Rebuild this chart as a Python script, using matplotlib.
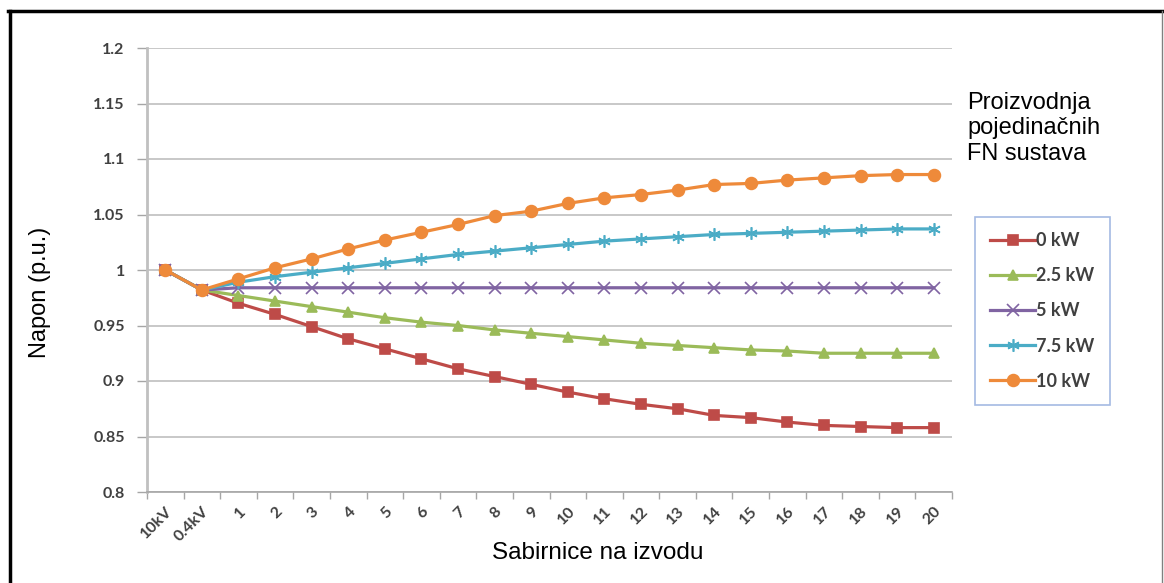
import matplotlib
matplotlib.use('Agg')
import matplotlib.pyplot as plt
from matplotlib.lines import Line2D

# Data
categories = ['10kV', '0.4kV'] + [str(i) for i in range(1, 21)]
series_labels = ['0 kW', '2.5 kW', '5 kW', '7.5 kW', '10 kW']
v_0kw = [1.0, 0.982, 0.970, 0.960, 0.949, 0.938, 0.929, 0.920, 0.911, 0.904, 0.897,
         0.890, 0.884, 0.879, 0.875, 0.869, 0.867, 0.863, 0.860, 0.859, 0.858, 0.858]
v_2_5kw = [1.0, 0.982, 0.977, 0.972, 0.967, 0.962, 0.957, 0.953, 0.950, 0.946, 0.943,
           0.940, 0.937, 0.934, 0.932, 0.930, 0.928, 0.927, 0.925, 0.925, 0.925, 0.925]
v_5kw = [1.0, 0.982, 0.984, 0.984, 0.984, 0.984, 0.984, 0.984, 0.984, 0.984, 0.984,
         0.984, 0.984, 0.984, 0.984, 0.984, 0.984, 0.984, 0.984, 0.984, 0.984, 0.984]
v_7_5kw = [1.0, 0.982, 0.989, 0.994, 0.998, 1.002, 1.006, 1.010, 1.014, 1.017, 1.020,
           1.023, 1.026, 1.028, 1.030, 1.032, 1.033, 1.034, 1.035, 1.036, 1.037, 1.037]
v_10kw = [1.0, 0.982, 0.992, 1.002, 1.010, 1.019, 1.027, 1.034, 1.041, 1.049, 1.053,
          1.060, 1.065, 1.068, 1.072, 1.077, 1.078, 1.081, 1.083, 1.085, 1.086, 1.086]
y_ticks = [0.8, 0.85, 0.9, 0.95, 1.0, 1.05, 1.1, 1.15, 1.2]
y_tick_labels = ['0.8', '0.85', '0.9', '0.95', '1', '1.05', '1.1', '1.15', '1.2']

colors = ['#be4b48', '#9bbb59', '#8064a2', '#4bacc6', '#ee8a3a']
markers = ['s', '^', 'x', (6, 2, 0), 'o']
msizes = [7, 7.5, 8, 9, 8.5]

fig = plt.figure(figsize=(11.64, 5.83), dpi=100)
ax = fig.add_axes([147 / 1164, 1 - 492 / 583, 805 / 1164, 444 / 583])

x = list(range(len(categories)))
all_series = [v_0kw, v_2_5kw, v_5kw, v_7_5kw, v_10kw]
for vals, lab, c, m, ms in zip(all_series, series_labels, colors, markers, msizes):
    ax.plot(x, vals, color=c, marker=m, markersize=ms, linewidth=2.3,
            markeredgewidth=1.2, markeredgecolor=c, label=lab)

tick_font = dict(fontsize=11.5, color='#404040', fontname='Lato', fontweight='bold')
ax.set_xlim(-0.5, len(categories) - 0.5)
ax.set_ylim(0.8, 1.2)
ax.set_yticks(y_ticks)
ax.set_yticklabels(y_tick_labels, **tick_font)
ax.set_xticks(x)
ax.set_xticklabels(categories, rotation=45, ha='right', va='top', rotation_mode='anchor', **tick_font)
ax.tick_params(axis='x', length=0, pad=9)
ax.set_xticks([i - 0.5 for i in range(len(categories) + 1)], minor=True)
ax.tick_params(axis='x', which='minor', length=5, color='#a6a6a6', width=1)
ax.tick_params(axis='y', length=7, color='#a6a6a6', width=1, pad=9)

ax.grid(True, axis='y', color='#bfbfbf', linewidth=1.2)
ax.set_axisbelow(True)
for s in ['top', 'right']:
    ax.spines[s].set_visible(False)
ax.spines['left'].set_color('#c0c0c0')
ax.spines['left'].set_linewidth(2)
ax.spines['bottom'].set_color('#a6a6a6')
ax.spines['bottom'].set_linewidth(1.2)

fig.text(40 / 1164, 1 - 292 / 583, 'Napon (p.u.)', rotation=90, ha='center', va='center',
         fontsize=17, fontname='Liberation Sans')
fig.text(598 / 1164, 1 - 553 / 583, 'Sabirnice na izvodu', ha='center', va='center',
         fontsize=17.5, fontname='Liberation Sans')
fig.text(967 / 1164, 1 - 92 / 583, 'Proizvodnja\npojedinačnih\nFN sustava', ha='left', va='top',
         fontsize=17, fontname='Liberation Sans', linespacing=1.2)

leg = ax.legend(loc='upper left', bbox_to_anchor=(975 / 1164, 1 - 217 / 583),
                bbox_transform=fig.transFigure, frameon=True, fancybox=False,
                prop={'family': 'Lato', 'weight': 'bold', 'size': 13},
                labelspacing=1.0, handlelength=2.5, handletextpad=0.05,
                borderpad=0.85, borderaxespad=0)
leg.get_frame().set_edgecolor('#8ea9db')
leg.get_frame().set_linewidth(1.2)
for t in leg.get_texts():
    t.set_color('#404040')

# outer frame
fig.add_artist(Line2D([9.5 / 1164, 9.5 / 1164], [0, 1 - 11 / 583], color='black', linewidth=2.5))
fig.add_artist(Line2D([8 / 1164, 1162 / 1164], [1 - 11 / 583, 1 - 11 / 583], color='black', linewidth=2.5))
fig.add_artist(Line2D([1162 / 1164, 1162 / 1164], [0, 1 - 11 / 583], color='#808080', linewidth=1))

fig.savefig('out.png', dpi=100)
